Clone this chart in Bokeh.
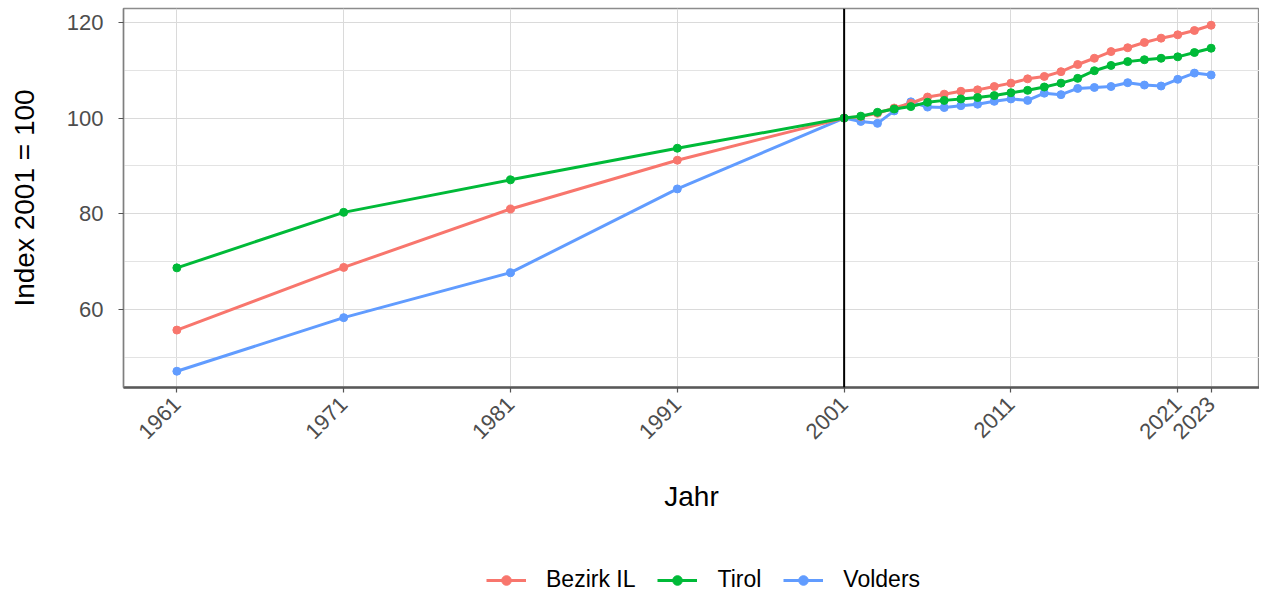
import math
from bokeh.plotting import figure
from bokeh.models import FixedTicker, Span, Legend, LegendItem, Range1d, ColumnDataSource
from bokeh.layouts import column
from bokeh.embed import file_html
from bokeh.resources import INLINE

years = [1961, 1971, 1981, 1991, 2001, 2002, 2003, 2004, 2005, 2006, 2007, 2008,
         2009, 2010, 2011, 2012, 2013, 2014, 2015, 2016, 2017, 2018, 2019, 2020,
         2021, 2022, 2023]

bezirk_il = [55.7, 68.8, 81.0, 91.2, 100.0, 100.3, 101.0, 102.1, 103.1, 104.4, 105.0,
             105.6, 105.9, 106.6, 107.3, 108.2, 108.7, 109.7, 111.2, 112.5, 113.9,
             114.7, 115.8, 116.7, 117.4, 118.3, 119.4]
tirol = [68.7, 80.3, 87.1, 93.7, 100.0, 100.4, 101.2, 101.9, 102.4, 103.3, 103.7,
         104.0, 104.3, 104.7, 105.3, 105.8, 106.5, 107.3, 108.3, 109.9, 111.0,
         111.8, 112.2, 112.5, 112.8, 113.7, 114.6]
volders = [47.1, 58.3, 67.7, 85.2, 100.0, 99.3, 98.9, 101.5, 103.4, 102.3, 102.2,
           102.6, 102.9, 103.5, 104.0, 103.7, 105.2, 104.9, 106.2, 106.4, 106.6,
           107.4, 106.9, 106.7, 108.1, 109.4, 109.0]

series_names = ["Bezirk IL", "Tirol", "Volders"]
series_values = [bezirk_il, tirol, volders]
colors = ["#F8766D", "#00BA38", "#619CFF"]

x_ticks = [1961, 1971, 1981, 1991, 2001, 2011, 2021, 2023]
y_ticks = [60, 80, 100, 120]
y_minor = [50, 70, 90, 110]

FONT = "Liberation Sans"

p = figure(width=1259, height=521, output_backend="svg", toolbar_location=None,
           x_range=Range1d(1957.8, 2025.9), y_range=Range1d(43.7, 122.9),
           min_border_left=123, min_border_right=0, min_border_top=8,
           min_border_bottom=134)
p.background_fill_color = "white"
p.border_fill_color = "white"
p.outline_line_color = "#8c8c8c"
p.outline_line_width = 1.3

# grids
p.xgrid.ticker = FixedTicker(ticks=x_ticks)
p.ygrid.ticker = FixedTicker(ticks=y_ticks, minor_ticks=y_minor)
p.xgrid.grid_line_color = "#DADADA"
p.ygrid.grid_line_color = "#DADADA"
p.xgrid.grid_line_width = 1
p.ygrid.grid_line_width = 1
p.ygrid.minor_grid_line_color = "#E3E3E3"
p.ygrid.minor_grid_line_width = 1

# axes
p.xaxis.ticker = FixedTicker(ticks=x_ticks, minor_ticks=[])
p.yaxis.ticker = FixedTicker(ticks=y_ticks, minor_ticks=y_minor)
for ax in (p.xaxis[0], p.yaxis[0]):
    ax.major_label_text_font = FONT
    ax.major_label_text_font_size = "22px"
    ax.major_label_text_color = "#4D4D4D"
    ax.axis_label_text_font = FONT
    ax.axis_label_text_font_size = "28px"
    ax.axis_label_text_font_style = "normal"
    ax.axis_label_text_color = "black"
    ax.major_tick_out = 5
    ax.major_tick_in = 0
    ax.minor_tick_out = 0
    ax.minor_tick_in = 0
    ax.major_tick_line_color = "#555555"
    ax.major_tick_line_width = 1.2

p.xaxis.axis_label = "Jahr"
p.yaxis.axis_label = "Index 2001 = 100"
p.xaxis.major_label_orientation = math.pi / 4
p.xaxis.major_label_standoff = 8
p.xaxis.axis_label_standoff = 32
p.yaxis.major_label_standoff = 15
p.yaxis.axis_label_standoff = 24
p.xaxis.axis_line_color = "#595959"
p.xaxis.axis_line_width = 2.5
p.yaxis.axis_line_color = "#7f7f7f"
p.yaxis.axis_line_width = 1.5

# vertical reference line at 2001
p.add_layout(Span(location=2001, dimension="height", line_color="black", line_width=2))

for i in [2, 0, 1]:
    src = ColumnDataSource(dict(x=years, y=series_values[i]))
    p.line("x", "y", source=src, line_color=colors[i], line_width=3)
    p.scatter("x", "y", source=src, size=8, fill_color=colors[i], line_color=colors[i])

# legend strip below the chart (same series, drawn outside its visible range)
lg = figure(width=1259, height=72, output_backend="svg", toolbar_location=None,
            x_range=Range1d(0, 1), y_range=Range1d(0, 1),
            min_border_left=0, min_border_right=0, min_border_top=0, min_border_bottom=0)
lg.axis.visible = False
lg.grid.visible = False
lg.outline_line_color = None
lg.background_fill_color = "white"
lg.border_fill_color = "white"
items = []
for i, name in enumerate(series_names):
    src = ColumnDataSource(dict(x=years, y=series_values[i]))
    r1 = lg.line("x", "y", source=src, line_color=colors[i], line_width=3)
    r2 = lg.scatter("x", "y", source=src, size=7, fill_color=colors[i], line_color=colors[i])
    items.append(LegendItem(label=name, renderers=[r1, r2]))
legend = Legend(items=items, orientation="horizontal", location=(363, 0),
                label_text_font=FONT, label_text_font_size="23px",
                label_text_color="black",
                label_standoff=20, glyph_width=40, glyph_height=24, spacing=22,
                padding=0, margin=0, border_line_color=None,
                background_fill_alpha=0)
lg.add_layout(legend, "center")

layout = column(p, lg, spacing=0)
open("out.html", "w").write(file_html(layout, INLINE))
